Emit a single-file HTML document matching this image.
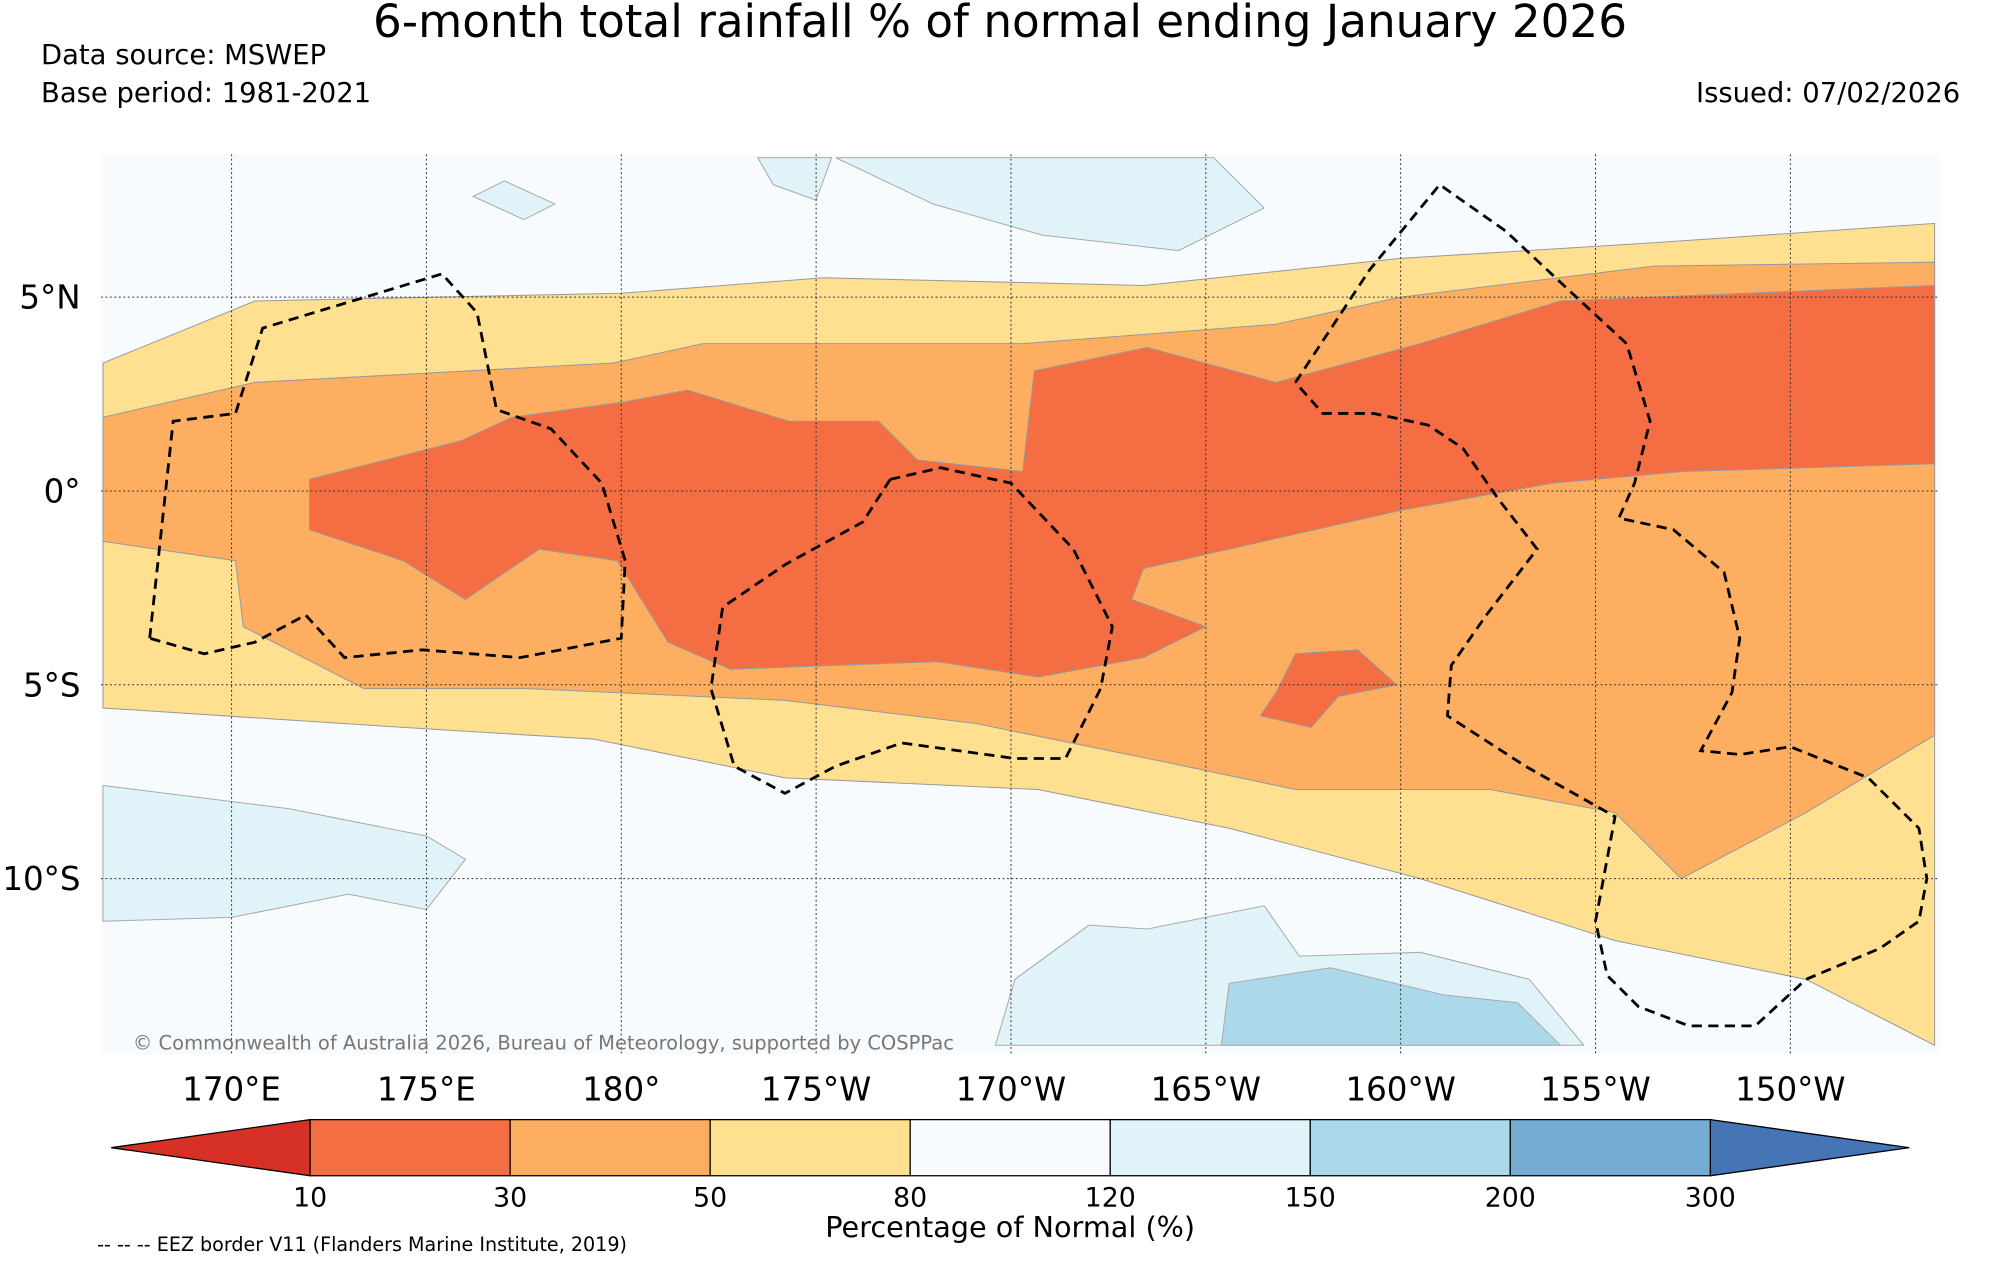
<!DOCTYPE html>
<html><head><meta charset="utf-8"><style>
html,body{margin:0;padding:0;background:#fff}
svg{display:block;font-family:"DejaVu Sans","Liberation Sans",sans-serif}
</style></head><body>
<svg id="chart" width="2000" height="1265" viewBox="0 0 1568 992" xmlns="http://www.w3.org/2000/svg">
<rect width="1568" height="992" fill="#fff"/>
<text x="784" y="29" font-size="35.5" text-anchor="middle">6-month total rainfall % of normal ending January 2026</text>
<text x="32" y="50" font-size="21.5">Data source: MSWEP</text>
<text x="32" y="80" font-size="21.5">Base period: 1981-2021</text>
<text x="1537" y="80" font-size="21.5" text-anchor="end">Issued: 07/02/2026</text>
<g id="map"></g>
<g id="cbar"></g>
<text x="792" y="970" font-size="22.5" text-anchor="middle">Percentage of Normal (%)</text>
<text x="76" y="981" font-size="15">-- -- -- EEZ border V11 (Flanders Marine Institute, 2019)</text>
</svg>
<script>
const NS='http://www.w3.org/2000/svg';
const lonTicks=[170,175,180,185,190,195,200,205,210];
const lonLabels=['170°E','175°E','180°','175°W','170°W','165°W','160°W','155°W','150°W'];
const latTicks=[5,0,-5,-10];
const latLabels=['5°N','0°','5°S','10°S'];
const cbarBounds=['10','30','50','80','120','150','200','300'];
const cbarColors=['#f46d43','#fdae61','#fee090','#f8fbfd','#e0f3f8','#abd9e9','#74add1'];
// contour regions, [lon(0-360), lat]
const yellowRegion=[[166.7,3.3],[170.6,4.9],[180,5.1],[185.2,5.5],[193.4,5.3],[200,6],[206.5,6.4],[213.7,6.9],[213.7,-14.3],[210.4,-12.6],[205.5,-11.6],[200.5,-10],[195.6,-8.7],[190.7,-7.7],[184.2,-7.4],[179.3,-6.4],[174.4,-6.1],[166.7,-5.6]];
const orangeRegion=[[166.7,1.9],[170.6,2.8],[179.8,3.3],[182.1,3.8],[190.3,3.8],[196.8,4.3],[200,5],[206.5,5.8],[213.7,5.9],[213.7,-6.3],[210.4,-8.3],[207.2,-10],[205.5,-8.3],[202.3,-7.7],[197.3,-7.7],[194,-7],[189.1,-6],[184.2,-5.4],[177.6,-5.1],[173.4,-5.1],[170.3,-3.5],[170.1,-1.8],[166.7,-1.3]];
const redRegion=[[172,0.3],[175.9,1.3],[177.2,1.9],[180.1,2.3],[181.7,2.6],[184.3,1.8],[186.6,1.8],[187.6,0.8],[190.3,0.5],[190.6,3.1],[193.5,3.7],[196.8,2.8],[200.5,3.8],[204.1,4.9],[213.7,5.3],[213.7,0.7],[207.2,0.5],[203.9,0.2],[200,-0.5],[195.6,-1.5],[193.4,-2],[193.1,-2.8],[195,-3.5],[193.4,-4.3],[190.7,-4.8],[188.1,-4.4],[182.8,-4.6],[181.2,-3.9],[179.9,-1.8],[177.9,-1.5],[176,-2.8],[174.4,-1.8],[172,-1]];
const redBlob=[[197.3,-4.2],[198.9,-4.1],[199.9,-5],[198.4,-5.3],[197.7,-6.1],[196.4,-5.8],[196.8,-5.2]];
const blueLight=[
[[166.7,-7.6],[171.5,-8.2],[175,-8.9],[176,-9.5],[175,-10.8],[173,-10.4],[170,-11],[166.7,-11.1]],
[[185.5,8.6],[188,7.4],[190.8,6.6],[194.3,6.2],[196.5,7.3],[195.2,8.6]],
[[176.2,7.6],[177.5,7],[178.3,7.4],[177,8]],
[[183.5,8.6],[185.4,8.6],[185,7.5],[183.9,7.9]],
[[190.1,-12.6],[192,-11.2],[193.5,-11.3],[196.5,-10.7],[197.4,-12],[200.5,-11.9],[203.3,-12.6],[204.7,-14.3],[189.6,-14.3]]];
const blueMid=[[[195.4,-14.3],[195.6,-12.7],[198.2,-12.3],[201.1,-13],[203,-13.2],[204.1,-14.3]]];
const eez=[
[[167.9,-3.8],[168.5,1.8],[170.1,2],[170.8,4.2],[175.4,5.6],[176.3,4.6],[176.8,2.1],[178.2,1.6],[179.5,0.2],[180.1,-1.8],[180,-3.8],[177.4,-4.3],[174.9,-4.1],[172.9,-4.3],[171.9,-3.2],[170.6,-3.9],[169.3,-4.2],[167.9,-3.8]],
[[186.9,0.3],[188.2,0.6],[190,0.2],[191.6,-1.5],[192.6,-3.5],[192.3,-5.1],[191.4,-6.9],[190.1,-6.9],[187.2,-6.5],[185.5,-7.1],[184.2,-7.8],[182.9,-7.1],[182.3,-5.1],[182.6,-3],[184.2,-1.9],[186.2,-0.8],[186.9,0.3]],
[[197.3,2.8],[199.2,5.7],[201,7.9],[202.7,6.7],[204.4,5.1],[205.8,3.8],[206.4,1.8],[206,0.2],[205.6,-0.7],[207,-1],[208.3,-2.1],[208.7,-3.8],[208.5,-5.2],[207.7,-6.7],[208.7,-6.8],[210,-6.6],[212,-7.4],[213.3,-8.7],[213.5,-10],[213.3,-11.1],[212.3,-11.8],[210.4,-12.6],[209.1,-13.8],[207.4,-13.8],[206.1,-13.3],[205.3,-12.5],[205,-11.1],[205.5,-8.4],[203.2,-7.1],[201.2,-5.8],[201.3,-4.5],[202.2,-3.2],[203.5,-1.5],[202.5,-0.2],[201.6,1.1],[200.7,1.7],[199.3,2],[198,2],[197.3,2.8]]];
const X=lon=>487+(lon-180)*30.56;
const Y=lat=>385-lat*30.4;
const map=document.getElementById('map');
function el(tag,attrs,parent){const e=document.createElementNS(NS,tag);for(const k in attrs)e.setAttribute(k,attrs[k]);(parent||map).appendChild(e);return e;}
function pts(a){return a.map(p=>X(p[0]).toFixed(1)+','+Y(p[1]).toFixed(1)).join(' ');}
const cp=el('clipPath',{id:'mc'});el('rect',{x:79,y:121,width:1442,height:706},cp);
const g=el('g',{'clip-path':'url(#mc)'});
const bg=el('rect',{x:79,y:121,width:1442,height:706,fill:'#f8fbfd'},g);


blueLight.forEach(r=>{const p=el('polygon',{points:pts(r),fill:'#e0f3f8',stroke:'#aaa','stroke-width':0.8},g);

});
blueMid.forEach(r=>{const p=el('polygon',{points:pts(r),fill:'#abd9e9',stroke:'#aaa','stroke-width':0.8},g);

});
[[yellowRegion,'#fee090','region-50-80'],[orangeRegion,'#fdae61','region-30-50'],[redRegion,'#f46d43','region-10-30'],[redBlob,'#f46d43','region-10-30-blob']].forEach(([r,c,n])=>{
const p=el('polygon',{points:pts(r),fill:c,stroke:'#999','stroke-width':0.8},g);

});
lonTicks.forEach((l,i)=>{const x=X(l);
const ln=el('line',{x1:x,x2:x,y1:121,y2:827,stroke:'#333','stroke-width':0.8,'stroke-dasharray':'1.5,2'},g);


const t=el('text',{x:x,y:863,'font-size':25.5,'text-anchor':'middle'});t.textContent=lonLabels[i];

});
latTicks.forEach((l,i)=>{const y=Y(l);
const ln=el('line',{x1:79,x2:1521,y1:y,y2:y,stroke:'#333','stroke-width':0.8,'stroke-dasharray':'1.5,2'},g);


const t=el('text',{x:63,y:y+9,'font-size':25.5,'text-anchor':'end'});t.textContent=latLabels[i];

});
eez.forEach(r=>{const p=el('polyline',{points:pts(r),fill:'none',stroke:'#000','stroke-width':2.2,'stroke-dasharray':'8,5'},g);

});
const cr=el('text',{x:104,y:823,'font-size':15.3,fill:'#777'});cr.textContent='© Commonwealth of Australia 2026, Bureau of Meteorology, supported by COSPPac';


// colorbar
const cb=document.getElementById('cbar');
const x0=243,x1=1341,yT=878,yB=922,w=(x1-x0)/cbarColors.length;
const lt=el('polygon',{points:`87,900 ${x0},${yT} ${x0},${yB}`,fill:'#d73027',stroke:'#000','stroke-width':1},cb);


const rt=el('polygon',{points:`1497,900 ${x1},${yT} ${x1},${yB}`,fill:'#4575b4',stroke:'#000','stroke-width':1},cb);


cbarColors.forEach((c,i)=>{const r=el('rect',{x:x0+i*w,y:yT,width:w,height:yB-yT,fill:c,stroke:'#000','stroke-width':1},cb);

});
cbarBounds.forEach((b,i)=>{const t=el('text',{x:x0+i*w,y:946,'font-size':21,'text-anchor':'middle'},cb);t.textContent=b;

});
</script>
</body></html>
